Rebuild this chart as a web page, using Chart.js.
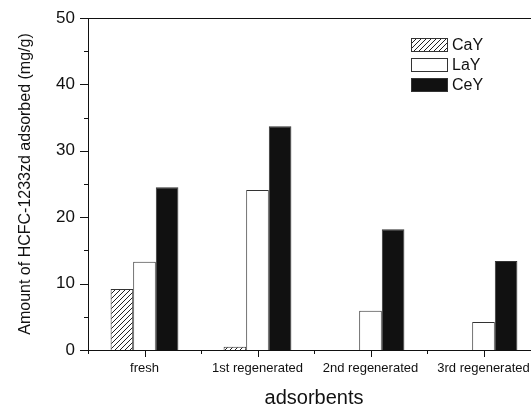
<!DOCTYPE html>
<html lang="en">
<head>
    <meta charset="UTF-8">
    <title>HCFC-1233zd adsorbed</title>
    <style>
        html, body { margin: 0; padding: 0; background: #fff; overflow: hidden; }
        #wrap { width: 560px; height: 407px; }
    </style>
</head>
<body>
    <div id="wrap"><canvas id="grafico" width="560" height="407"></canvas></div>

    <script src="https://cdn.jsdelivr.net/npm/chart.js"></script>
    <script>
        // dati
        const categorie = ['fresh', '1st regenerated', '2nd regenerated', '3rd regenerated'];
        const valoriCaY = [9.2, 0.5, 0, 0];
        const valoriLaY = [13.3, 24.1, 5.9, 4.2];
        const valoriCeY = [24.5, 33.7, 18.2, 13.4];
        const yTicks = [0, 10, 20, 30, 40, 50];
        const nomiSerie = ['CaY', 'LaY', 'CeY'];

        const INK = '#111111';
        const FONT = "'Liberation Sans', Arial, sans-serif";

        // pattern tratteggiato per CaY
        function creaTratteggio() {
            const c = document.createElement('canvas');
            c.width = 5; c.height = 5;
            const g = c.getContext('2d');
            g.fillStyle = '#fff';
            g.fillRect(0, 0, 5, 5);
            g.strokeStyle = '#222';
            g.lineWidth = 1;
            g.beginPath();
            g.moveTo(-1, 6); g.lineTo(6, -1);
            g.moveTo(-1, 1); g.lineTo(1, -1);
            g.moveTo(4, 6); g.lineTo(6, 4);
            g.stroke();
            return g.createPattern(c, 'repeat');
        }
        const tratteggio = creaTratteggio();
        const riempimenti = [tratteggio, '#ffffff', INK];

        // tacche principali e secondarie, bordo superiore, legenda
        const decorazioni = {
            id: 'decorazioni',
            afterDraw(chart) {
                const ctx = chart.ctx;
                const area = chart.chartArea;
                const y = chart.scales.y;
                const x = chart.scales.x;
                ctx.save();
                ctx.strokeStyle = INK;
                ctx.lineWidth = 1;
                ctx.beginPath();
                // bordo superiore
                ctx.moveTo(area.left, area.top + 0.5);
                ctx.lineTo(area.right, area.top + 0.5);
                // tacche asse y
                for (let v = 0; v <= 50; v += 5) {
                    const py = Math.round(y.getPixelForValue(v)) + 0.5;
                    const len = v % 10 === 0 ? 8 : 4;
                    ctx.moveTo(area.left - len, py);
                    ctx.lineTo(area.left, py);
                }
                // tacche asse x
                for (let i = 0; i < categorie.length; i++) {
                    const px = Math.round(x.getPixelForValue(i)) + 0.5;
                    ctx.moveTo(px, area.bottom);
                    ctx.lineTo(px, area.bottom + 7);
                    const pb = Math.round(x.getPixelForValue(i - 0.5)) + 0.5;
                    ctx.moveTo(pb, area.bottom);
                    ctx.lineTo(pb, area.bottom + 4);
                }
                ctx.stroke();

                // legenda
                const lx = 411, ly = 38, bw = 36, bh = 13, passo = 20;
                ctx.font = '16px ' + FONT;
                ctx.textBaseline = 'middle';
                chart.data.datasets.forEach((ds, i) => {
                    const top = ly + i * passo;
                    ctx.fillStyle = ds.backgroundColor;
                    ctx.fillRect(lx, top, bw, bh);
                    ctx.strokeStyle = '#333';
                    ctx.strokeRect(lx + 0.5, top + 0.5, bw, bh);
                    ctx.fillStyle = INK;
                    ctx.fillText(ds.label, lx + bw + 5, top + bh / 2 + 1);
                });
                ctx.restore();
            }
        };

        const ctx = document.getElementById('grafico').getContext('2d');
        const grafico = new Chart(ctx, {
            type: 'bar',
            data: {
                labels: categorie,
                datasets: [valoriCaY, valoriLaY, valoriCeY].map((dati, i) => ({
                    label: nomiSerie[i],
                    data: dati,
                    backgroundColor: riempimenti[i],
                    borderColor: '#333',
                    borderWidth: 1,
                    borderSkipped: 'bottom',
                    categoryPercentage: 0.6,
                    barPercentage: 1.0
                }))
            },
            options: {
                responsive: false,
                animation: false,
                layout: { padding: { top: 18, right: 20, left: 0, bottom: 0 } },
                plugins: {
                    legend: { display: false },
                    tooltip: { enabled: false }
                },
                scales: {
                    x: {
                        grid: { display: false, drawTicks: false },
                        border: { display: true, color: INK, width: 1 },
                        ticks: {
                            color: INK,
                            font: { family: FONT, size: 13 },
                            padding: 11,
                            maxRotation: 0,
                            autoSkip: false
                        },
                        title: {
                            display: true,
                            text: 'adsorbents',
                            color: INK,
                            font: { family: FONT, size: 20, lineHeight: 0.9 },
                            padding: { top: 0, bottom: 0 }
                        },
                        afterFit(scale) {
                            scale.height = 57;
                            scale.paddingLeft = 0;
                            scale.paddingRight = 0;
                        }
                    },
                    y: {
                        min: 0,
                        max: 50,
                        afterBuildTicks(scale) {
                            scale.ticks = yTicks.map(v => ({ value: v }));
                        },
                        grid: { display: false, drawTicks: false },
                        border: { display: true, color: INK, width: 1 },
                        ticks: {
                            color: INK,
                            font: { family: FONT, size: 17 },
                            padding: 13
                        },
                        title: {
                            display: true,
                            text: 'Amount of HCFC-1233zd adsorbed (mg/g)',
                            color: INK,
                            font: { family: FONT, size: 16 },
                            padding: { top: 16, bottom: 0 }
                        },
                        afterFit(scale) {
                            scale.width = 88;
                            scale.paddingTop = 0;
                            scale.paddingBottom = 0;
                        }
                    }
                }
            },
            plugins: [decorazioni]
        });
    </script>
</body>
</html>
